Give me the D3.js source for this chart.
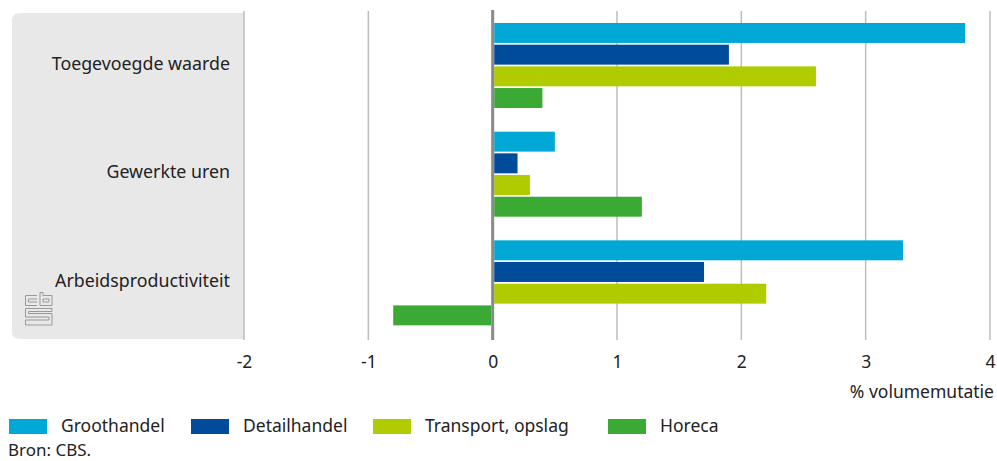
<!DOCTYPE html>
<html>
<head>
<meta charset="utf-8">
<script src="https://cdn.jsdelivr.net/npm/d3@7"></script>
<style>
  body { margin: 0; background: #fff; }
  text { font-family: "Noto Sans", "Open Sans", sans-serif; fill: #222; }
</style>
</head>
<body>
<svg id="chart" width="997" height="461"></svg>
<script>
// data
var categories = ["Toegevoegde waarde", "Gewerkte uren", "Arbeidsproductiviteit"];
var seriesNames = ["Groothandel", "Detailhandel", "Transport, opslag", "Horeca"];
var groothandel = [3.8, 0.5, 3.3];
var detailhandel = [1.9, 0.2, 1.7];
var transport = [2.6, 0.3, 2.2];
var horeca = [0.4, 1.2, -0.8];
var xTicks = [-2, -1, 0, 1, 2, 3, 4];
var colors = ["#00a8d6", "#004b9a", "#b0cb00", "#3aaa35"];

var values = [groothandel, detailhandel, transport, horeca];

var svg = d3.select("#chart");

var xScale = d3.scaleLinear().domain([-2, 4]).range([244, 990]);
var yScale = d3.scaleBand().domain(categories).range([13, 339]);
var ySub = d3.scaleBand().domain(seriesNames).range([10, 95]).paddingInner(0.08);

// grey label panel
svg.append("path")
   .attr("d", "M" + xScale(-2) + ",13 L20,13 Q12,13 12,21 L12,331 Q12,339 20,339 L" + xScale(-2) + ",339 Z")
   .attr("fill", "#e8e8e8");

// gridlines
svg.selectAll(".grid")
   .data(xTicks.filter(function(d){ return d !== 0; }))
   .enter().append("line")
   .attr("x1", function(d){ return xScale(d); })
   .attr("x2", function(d){ return xScale(d); })
   .attr("y1", 11)
   .attr("y2", 340)
   .style("stroke", "#bdbdbd")
   .style("stroke-width", 1.5);

// bars
var g = svg.append("g");
categories.forEach(function(cat, i){
    seriesNames.forEach(function(s, j){
        var v = values[j][i];
        g.append("rect")
         .attr("x", xScale(Math.min(0, v)) + (v >= 0 ? 1.5 : 0))
         .attr("y", yScale(cat) + ySub(s))
         .attr("width", Math.abs(xScale(v) - xScale(0)) - 1.5)
         .attr("height", ySub.bandwidth())
         .style("fill", colors[j]);
    });
    svg.append("text")
       .attr("x", 230)
       .attr("y", yScale(cat) + ySub.range()[0] + (ySub.range()[1] - ySub.range()[0]) / 2 + 4)
       .attr("text-anchor", "end")
       .attr("font-size", "17.8px")
       .text(cat);
});

// zero line
svg.append("line")
   .attr("x1", xScale(0)).attr("x2", xScale(0))
   .attr("y1", 10).attr("y2", 340)
   .style("stroke", "#8a8a8a")
   .style("stroke-width", 3);

// x axis labels
var ax = svg.append("g")
   .attr("transform", "translate(0,351)")
   .call(d3.axisBottom(xScale).tickValues(xTicks).tickSize(0).tickPadding(0)
        .tickFormat(function(d){ return String(d); }));
ax.select(".domain").remove();
ax.selectAll("text")
  .attr("font-size", "17.5px")
  .attr("dy", "0.95em")
  .style("font-family", "\"Noto Sans\", sans-serif")
  .attr("fill", "#222");

svg.append("text")
   .attr("x", 994)
   .attr("y", 398)
   .attr("text-anchor", "end")
   .attr("font-size", "17.5px")
   .text("% volumemutatie");

// legend
var legendX = [9, 191, 373, 608];
seriesNames.forEach(function(s, j){
    svg.append("rect")
       .attr("x", legendX[j]).attr("y", 419)
       .attr("width", 38).attr("height", 15)
       .style("fill", colors[j]);
    svg.append("text")
       .attr("x", legendX[j] + 52)
       .attr("y", 432)
       .attr("font-size", "17.5px")
       .text(s);
});

svg.append("text")
   .attr("x", 8)
   .attr("y", 456)
   .attr("font-size", "17px")
   .text("Bron: CBS.");

// cbs logo
var logo = svg.append("g")
   .attr("transform", "translate(25,292)")
   .style("fill", "none")
   .style("stroke", "#999")
   .style("stroke-width", 1);
logo.append("path").attr("d", "M0.5,3.5 H12 M0.5,3.5 V13.5 H12 M3.5,7 H12 M3.5,7 V10 H12");
logo.append("path").attr("d", "M15,0.5 V13.5 H27 V3.5 H18 V0.5 Z M18,7 H24 V10 H18 Z");
logo.append("path").attr("d", "M27,16.5 H0.5 V25 H24 V28 H0.5 V33 H27 V21.5 H3.5 V19.5 H27 Z");
</script>
</body>
</html>
